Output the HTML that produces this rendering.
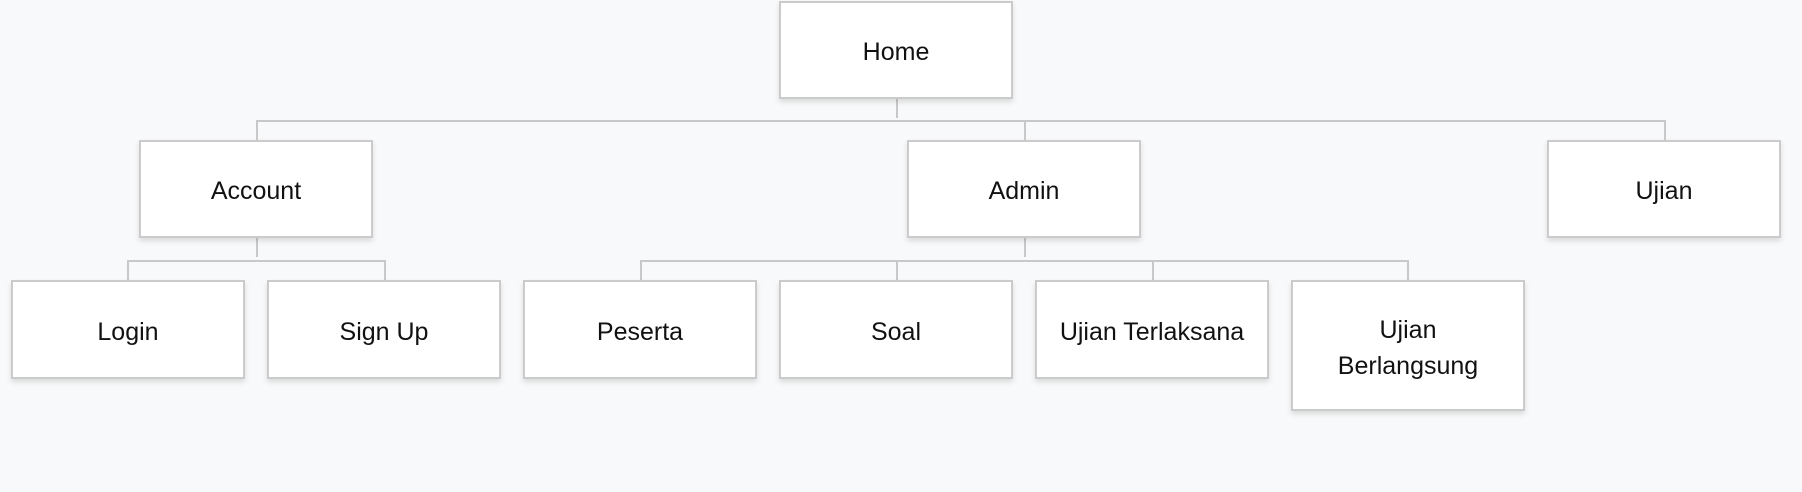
<!DOCTYPE html>
<html><head><style>
body{margin:0;width:1802px;height:492px;background:#f8f9fa;position:relative;overflow:hidden;font-family:"Liberation Sans",sans-serif;}
.b{position:absolute;box-sizing:border-box;background:#fff;border:2px solid #cbcbcb;box-shadow:0 3px 5px rgba(0,0,0,0.12);display:flex;align-items:center;justify-content:center;text-align:center;font-size:25px;color:#111;line-height:36px;padding-top:4px;}
svg{position:absolute;left:0;top:0;}
</style></head><body>
<svg width="1802" height="492"><g stroke="#c8c8c8" stroke-width="2" fill="none">
<path d="M897 99V118M257 140V121H1665V140M1025 121V140"/>
<path d="M257 238V257M128 281V261H385V281"/>
<path d="M1025 238V257M641 281V261H1408V281M897 261V281M1153 261V281"/>
</g></svg>
<div class="b" style="left:779px;top:1px;width:234px;height:98px">Home</div>
<div class="b" style="left:139px;top:140px;width:234px;height:98px">Account</div>
<div class="b" style="left:907px;top:140px;width:234px;height:98px">Admin</div>
<div class="b" style="left:1547px;top:140px;width:234px;height:98px">Ujian</div>
<div class="b" style="left:11px;top:280px;width:234px;height:99px">Login</div>
<div class="b" style="left:267px;top:280px;width:234px;height:99px">Sign Up</div>
<div class="b" style="left:523px;top:280px;width:234px;height:99px">Peserta</div>
<div class="b" style="left:779px;top:280px;width:234px;height:99px">Soal</div>
<div class="b" style="left:1035px;top:280px;width:234px;height:99px">Ujian Terlaksana</div>
<div class="b" style="left:1291px;top:280px;width:234px;height:131px">Ujian<br>Berlangsung</div>
</body></html>
